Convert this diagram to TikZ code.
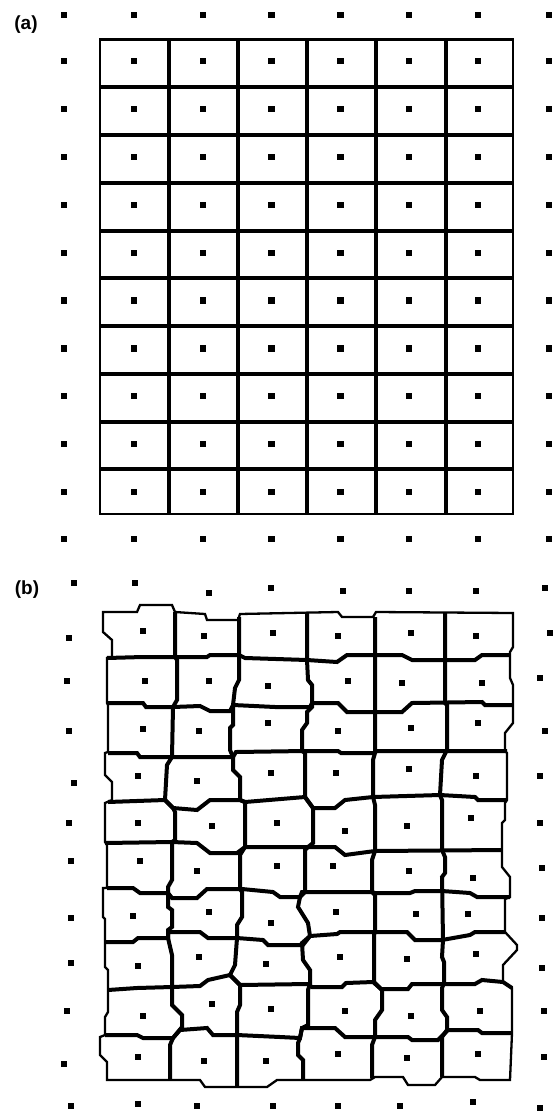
\documentclass[tikz,border=0pt]{standalone}
\usepackage{fontspec}
\setmainfont{Liberation Sans}
\begin{document}
\begin{tikzpicture}[x=1pt,y=-1pt,
  inner/.style={line width=4pt,line join=miter,line cap=butt},
  outer/.style={line width=2.3pt,line join=miter,line cap=rect},
  dotfill/.style={fill=black},
  lbl/.style={font=\bfseries\fontsize{19}{19}\selectfont,inner sep=0pt}]
\useasboundingbox[fill=white] (0,0) rectangle (555,1113);
% ---------- panel (a) ----------
\node[lbl] (la) at (26,25) {(a)};
\foreach \x in {169,237.5,307,375.5,446}
  \draw[inner] (\x,39.5) -- (\x,514.3);
\foreach \y in {87.3,135,182.8,230.5,278.3,326,373.8,421.5,469.3}
  \draw[inner] (100,\y) -- (512.7,\y);
\draw[outer] (100,39.5) rectangle (512.7,514.3);
\foreach \x in {64,133.7,202.6,271.5,340.4,409.3,478.2,549}
  \foreach \y in {15,61,108.9,156.8,204.7,252.6,300.5,348.4,396.3,444.2,492.1,538.7}
    \fill[dotfill] (\x-3.1,\y-3.1) rectangle (\x+3.1,\y+3.1);
% ---------- panel (b) ----------
\node[lbl] (lb) at (27,590) {(b)};
% interior horizontal boundaries
\draw[inner] (107,658) -- (143,657) -- (175,657) -- (207,657) -- (210,655) -- (239,655) -- (245,658) -- (307,660) -- (337,662) -- (347,655) -- (402,655) -- (412,660) -- (475,660) -- (482,655) -- (510,655);
\draw[inner] (107,703) -- (143,703) -- (146,707) -- (173,707) -- (200,706) -- (210,711) -- (230,711) -- (233,705) -- (275,707) -- (310,707) -- (312,703) -- (338,703) -- (347,712) -- (402,712) -- (412,703) -- (482,702) -- (485,705) -- (513,705);
\draw[inner] (108,753) -- (137,753) -- (140,757) -- (233,757) -- (236,752) -- (305,751) -- (338,751) -- (341,753) -- (374,753) -- (377,751) -- (507,751);
\draw[inner] (108,802) -- (165,800) -- (173,808) -- (197,810) -- (210,800) -- (240,800) -- (245,802) -- (305,797) -- (313,808) -- (335,808) -- (345,800) -- (373,797) -- (440,795) -- (475,797) -- (478,800) -- (507,800);
\draw[inner] (105,843) -- (172,842) -- (197,843) -- (210,853) -- (237,853) -- (245,847) -- (335,847) -- (345,855) -- (375,851) -- (502,850);
\draw[inner] (107,888) -- (133,888) -- (140,893) -- (168,893) -- (172,898) -- (197,898) -- (207,889) -- (242,889) -- (273,892) -- (280,897) -- (300,897) -- (302,892) -- (372,892) -- (375,893) -- (410,893) -- (415,891) -- (442,891) -- (470,893) -- (477,897) -- (510,897);
\draw[inner] (105,942) -- (133,942) -- (138,938) -- (168,938) -- (168,932) -- (200,932) -- (208,938) -- (237,938) -- (263,940) -- (268,945) -- (303,945) -- (310,936) -- (337,934) -- (340,932) -- (407,932) -- (415,940) -- (442,940) -- (470,935) -- (475,932) -- (505,932);
\draw[inner] (108,990) -- (137,988) -- (172,987) -- (200,986) -- (208,980) -- (230,975) -- (240,985) -- (308,984) -- (312,987) -- (342,987) -- (346,983) -- (373,982) -- (381,989) -- (408,989) -- (412,984) -- (475,984) -- (482,980) -- (503,982) -- (512,988);
\draw[inner] (105,1035) -- (137,1035) -- (143,1038) -- (173,1038) -- (180,1030) -- (207,1028) -- (213,1035) -- (237,1035) -- (280,1037) -- (300,1038) -- (302,1028) -- (335,1028) -- (345,1037) -- (408,1037) -- (412,1040) -- (438,1040) -- (448,1030) -- (478,1030) -- (482,1033) -- (512,1033);
% interior vertical boundaries
\draw[inner] (175,612) -- (175,657) -- (177,660) -- (177,700) -- (173,707) -- (172,757) -- (167,765) -- (165,800) -- (173,808) -- (175,812) -- (175,840) -- (172,842) -- (172,880) -- (168,887) -- (168,907) -- (172,910) -- (172,927) -- (168,930) -- (168,938) -- (172,955) -- (172,1005) -- (182,1015) -- (182,1027) -- (173,1038) -- (170,1045) -- (170,1080);
\draw[inner] (239,617) -- (239,680) -- (235,688) -- (233,705) -- (233,725) -- (230,728) -- (230,750) -- (233,757) -- (233,770) -- (240,777) -- (240,800) -- (245,802) -- (245,847) -- (240,855) -- (240,889) -- (242,892) -- (242,917) -- (237,925) -- (237,938) -- (235,965) -- (230,975) -- (240,985) -- (240,1005) -- (237,1012) -- (237,1087);
\draw[inner] (307,612) -- (307,660) -- (308,680) -- (312,685) -- (312,707) -- (307,712) -- (307,723) -- (302,730) -- (302,751) -- (305,753) -- (305,797) -- (313,808) -- (313,843) -- (308,847) -- (305,850) -- (305,892) -- (300,897) -- (298,907) -- (308,923) -- (310,936) -- (302,943) -- (303,960) -- (310,970) -- (310,984) -- (308,990) -- (308,1025) -- (302,1028) -- (300,1038) -- (298,1043) -- (298,1055) -- (303,1060) -- (303,1080);
\draw[inner] (375,617) -- (375,753) -- (373,760) -- (373,797) -- (375,805) -- (375,851) -- (372,860) -- (372,892) -- (375,895) -- (375,932) -- (374,935) -- (374,982) -- (382,990) -- (382,1010) -- (375,1020) -- (375,1037) -- (372,1045) -- (372,1078);
\draw[inner] (445,613) -- (445,703) -- (447,705) -- (447,750) -- (442,760) -- (440,795) -- (442,800) -- (442,850) -- (445,857) -- (445,873) -- (442,877) -- (443,940) -- (442,957) -- (444,962) -- (444,983) -- (442,988) -- (442,1010) -- (447,1017) -- (447,1030) -- (442,1037) -- (442,1077);
% outer border of panel (b)
\draw[outer] (103,612) -- (137,612) -- (140,605) -- (172,605) -- (175,612) -- (205,614) -- (207,620) -- (238,620) -- (240,614) -- (338,612) -- (342,617) -- (373,617) -- (376,612) -- (513,613)
  -- (513,647) -- (510,652) -- (510,678) -- (513,685) -- (513,723) -- (505,733) -- (505,751) -- (507,753) -- (507,800) -- (505,803) -- (505,820) -- (502,823) -- (502,867) -- (510,877) -- (510,897) -- (505,899) -- (505,932) -- (517,945) -- (517,950) -- (503,965) -- (503,982) -- (512,988) -- (512,1033) -- (510,1080)
  -- (480,1080) -- (475,1077) -- (442,1077) -- (435,1085) -- (408,1085) -- (403,1077) -- (375,1077) -- (370,1080) -- (277,1080) -- (267,1087) -- (205,1087) -- (200,1080) -- (107,1080)
  -- (107,1062) -- (100,1055) -- (100,1037) -- (105,1035) -- (105,1017) -- (108,1012) -- (108,970) -- (105,967) -- (105,919) -- (103,917) -- (103,888) -- (107,888) -- (107,845) -- (105,842) -- (105,803) -- (112,800) -- (112,782) -- (105,775) -- (105,753) -- (108,752) -- (108,705) -- (107,703) -- (107,658) -- (112,657) -- (112,640) -- (103,632) -- cycle;
% seeds of panel (b)
\foreach \x/\y in {
  143/631,204/636,273/633,338/636,411/633,476/636,
  145/681,209/681,268/686,348/681,402/683,482/683,
  143/729,199/731,268/723,338/731,411/728,478/723,
  138/776,197/781,271/773,336/773,409/769,476/776,
  138/823,212/826,277/823,345/831,407/826,471/818,
  140/861,197/871,277/866,333/866,409/871,473/878,
  133/916,209/912,271/923,336/912,416/914,468/914,
  138/966,199/957,266/964,340/957,407/959,476/954,
  143/1016,212/1004,271/1009,345/1011,411/1016,480/1011,
  138/1057,204/1061,266/1061,338/1054,407/1058,478/1054,
  74/583,135/583,209/593,271/588,343/591,409/591,476/591,545/588,
  69/638,67/681,69/731,74/783,69/823,71/861,71/918,71/963,67/1011,64/1064,
  550/633,540/678,545/731,540/776,540/823,542/868,542/918,542/968,544/1011,544/1057,
  71/1106,138/1104,197/1106,273/1106,338/1106,400/1106,473/1102,540/1108}
  \fill[dotfill] (\x-3.1,\y-3.1) rectangle (\x+3.1,\y+3.1);
\end{tikzpicture}
\end{document}
